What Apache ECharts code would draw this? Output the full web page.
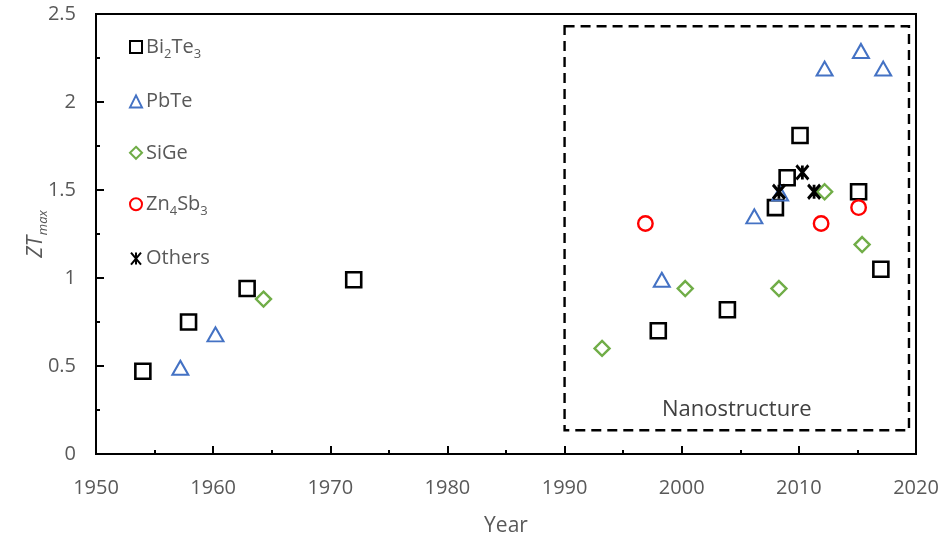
<!DOCTYPE html>
<html>
<head>
<meta charset="utf-8">
<script src="https://cdn.jsdelivr.net/npm/echarts@6/dist/echarts.min.js"></script>
<style>
  html, body { margin: 0; padding: 0; background: #ffffff; }
  #chart { width: 945px; height: 540px; }
</style>
</head>
<body>
<div id="chart"></div>
<script>
// Peak ZT of thermoelectric material families by year of report
const bi2te3Years = [1954, 1957.9, 1962.9, 1972, 1998, 2003.9, 2008, 2009, 2010.1, 2015.1, 2017];
const bi2te3ZT    = [0.47, 0.75, 0.94, 0.99, 0.70, 0.82, 1.40, 1.57, 1.81, 1.49, 1.05];

const pbteYears = [1957.2, 1960.2, 1998.3, 2006.2, 2008.4, 2012.2, 2015.3, 2017.2];
const pbteZT    = [0.49, 0.68, 0.99, 1.35, 1.48, 2.19, 2.29, 2.19];

const sigeYears = [1964.3, 1993.2, 2000.3, 2008.3, 2012.2, 2015.4];
const sigeZT    = [0.88, 0.60, 0.94, 0.94, 1.49, 1.19];

const zn4sb3Years = [1996.9, 2011.9, 2015.1];
const zn4sb3ZT    = [1.31, 1.31, 1.40];

const otherYears = [2008.3, 2010.3, 2011.3];
const otherZT    = [1.49, 1.60, 1.49];

// Nanostructure era outline (year span, ZT span)
const nanoYears = [1990, 2019.4];
const nanoZT    = [0.135, 2.43];

const xTicks = { min: 1950, max: 2020, step: 10 };
const yTicks = { min: 0, max: 2.5, step: 0.5 };

const seriesNames = ['Bi2Te3', 'PbTe', 'SiGe', 'Zn4Sb3', 'Others'];
const legendRich = {
  'Bi2Te3': '{b|Bi}{s|2}{b|Te}{s|3}',
  'PbTe': '{b|PbTe}',
  'SiGe': '{b|SiGe}',
  'Zn4Sb3': '{b|Zn}{s|4}{b|Sb}{s|3}',
  'Others': '{b|Others}'
};

const FONT = 'Open Sans';
const GRAY = '#595959';

function pairs(xs, ys) { return xs.map((x, i) => [x, ys[i]]); }

const asterisk = 'path://M0,0L10,12M10,0L0,12M5,0L5,12';

const chart = echarts.init(document.getElementById('chart'), null, { renderer: 'canvas' });

chart.setOption({
  animation: false,
  backgroundColor: '#ffffff',
  grid: {
    left: 96, right: 29, top: 14, bottom: 86,
    outerBoundsMode: 'none', containLabel: false,
    show: true, borderColor: '#000000', borderWidth: 2, backgroundColor: 'transparent'
  },
  legend: {
    orient: 'vertical',
    left: 124, top: 31,
    itemWidth: 12, itemHeight: 12, itemGap: 29.4,
    data: seriesNames,
    formatter: name => legendRich[name],
    textStyle: {
      fontFamily: FONT, color: GRAY, fontSize: 20, lineHeight: 22,
      padding: [0, 0, 0, -1],
      rich: {
        b: { fontFamily: FONT, color: GRAY, fontSize: 20, lineHeight: 22 },
        s: { fontFamily: FONT, color: GRAY, fontSize: 13, lineHeight: 13, verticalAlign: 'bottom', padding: [0, 0, -3, 0] }
      }
    }
  },
  xAxis: {
    type: 'value',
    min: xTicks.min, max: xTicks.max, interval: xTicks.step,
    name: 'Year', nameLocation: 'middle', nameGap: 62, nameMoveOverlap: false,
    nameTextStyle: { fontFamily: FONT, color: GRAY, fontSize: 21 },
    axisLine: { lineStyle: { color: '#000000', width: 2 } },
    axisTick: { inside: true, length: 8, lineStyle: { color: '#000000', width: 2 } },
    minorTick: { show: true, splitNumber: 2, length: 4, lineStyle: { color: '#000000', width: 2 } },
    axisLabel: { fontFamily: FONT, color: GRAY, fontSize: 20, margin: 24, formatter: v => String(v) },
    splitLine: { show: false }
  },
  yAxis: {
    type: 'value',
    min: yTicks.min, max: yTicks.max, interval: yTicks.step,
    name: '{a|ZT}{b|max}', nameLocation: 'middle', nameGap: 48, nameMoveOverlap: false,
    nameTextStyle: {
      rich: {
        a: { fontFamily: FONT, fontStyle: 'italic', color: GRAY, fontSize: 21, lineHeight: 24 },
        b: { fontFamily: FONT, fontStyle: 'italic', color: GRAY, fontSize: 13, lineHeight: 13, verticalAlign: 'bottom', padding: [0, 0, -2, 1] }
      }
    },
    axisLine: { lineStyle: { color: '#000000', width: 2 } },
    axisTick: { inside: true, length: 8, lineStyle: { color: '#000000', width: 2 } },
    minorTick: { show: true, splitNumber: 2, length: 4, lineStyle: { color: '#000000', width: 2 } },
    axisLabel: { fontFamily: FONT, color: GRAY, fontSize: 20, margin: 20 },
    splitLine: { show: false }
  },
  series: [
    {
      name: 'Bi2Te3', type: 'scatter', symbol: 'rect', symbolSize: 15,
      itemStyle: { color: 'rgba(255,255,255,0)', borderColor: '#000000', borderWidth: 2.6, opacity: 1 },
      data: pairs(bi2te3Years, bi2te3ZT),
      markArea: {
        silent: true,
        itemStyle: { color: 'rgba(0,0,0,0)', borderColor: '#000000', borderWidth: 2.4, borderType: [10, 6] },
        label: {
          show: true, position: 'insideBottom', distance: 11,
          fontFamily: FONT, fontSize: 22, color: '#404040'
        },
        data: [[
          { name: 'Nanostructure', coord: [nanoYears[0], nanoZT[1]] },
          { coord: [nanoYears[1], nanoZT[0]] }
        ]]
      }
    },
    {
      name: 'PbTe', type: 'scatter', symbol: 'triangle', symbolSize: [16, 14],
      itemStyle: { color: 'rgba(255,255,255,0)', borderColor: '#4472C4', borderWidth: 2, opacity: 1 },
      data: pairs(pbteYears, pbteZT)
    },
    {
      name: 'SiGe', type: 'scatter', symbol: 'diamond', symbolSize: 15,
      itemStyle: { color: 'rgba(255,255,255,0)', borderColor: '#70AD47', borderWidth: 2.4, opacity: 1 },
      data: pairs(sigeYears, sigeZT)
    },
    {
      name: 'Zn4Sb3', type: 'scatter', symbol: 'circle', symbolSize: 14.5,
      itemStyle: { color: 'rgba(255,255,255,0)', borderColor: '#FF0000', borderWidth: 2.4, opacity: 1 },
      data: pairs(zn4sb3Years, zn4sb3ZT)
    },
    {
      name: 'Others', type: 'scatter', symbol: asterisk, symbolSize: [12, 14],
      itemStyle: { color: 'rgba(0,0,0,0)', borderColor: '#000000', borderWidth: 3, opacity: 1 },
      data: pairs(otherYears, otherZT)
    }
  ]
});
</script>
</body>
</html>
